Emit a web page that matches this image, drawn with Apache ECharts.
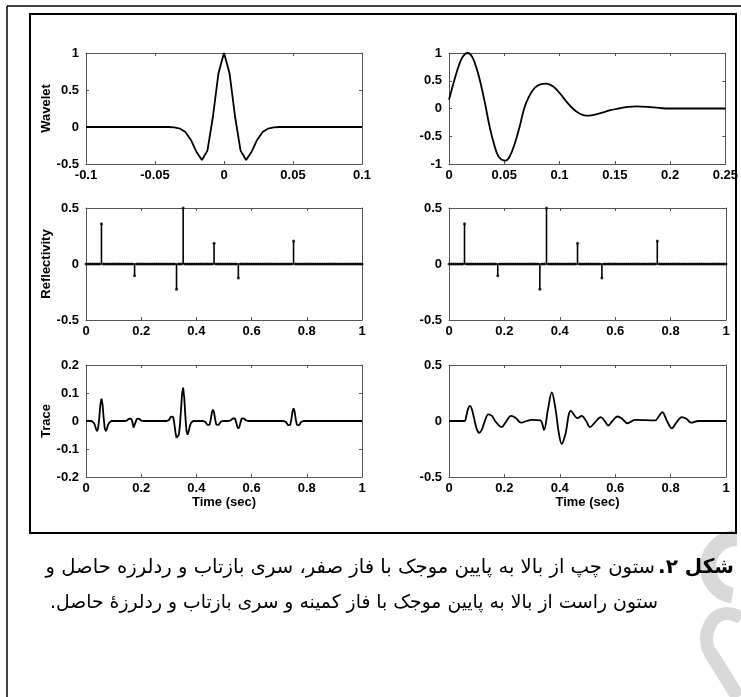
<!DOCTYPE html>
<html><head><meta charset="utf-8">
<script src="https://cdn.jsdelivr.net/npm/echarts@6/dist/echarts.min.js"></script>
<style>html,body{margin:0;padding:0;background:#fff}#c{width:741px;height:697px}</style>
</head><body><div id="c"></div>
<script>
// ---- zero-phase wavelet (left, top) ----
const zpWaveT = [-0.1,-0.04,-0.036,-0.032,-0.028,-0.024,-0.02,-0.016,-0.012,-0.008,-0.004,0,0.004,0.008,0.012,0.016,0.02,0.024,0.028,0.032,0.036,0.04,0.1];
const zpWaveV = [0,0,-0.005,-0.021,-0.069,-0.175,-0.334,-0.445,-0.319,0.142,0.727,1,0.727,0.142,-0.319,-0.445,-0.334,-0.175,-0.069,-0.021,-0.005,0,0];
// ---- minimum-phase wavelet (right, top) ----
const mpWaveT = [0,0.004,0.008,0.012,0.0168,0.021,0.025,0.029,0.033,0.037,0.041,0.045,0.051,0.055,0.06,0.064,0.068,0.072,0.077,0.082,0.088,0.094,0.1,0.106,0.112,0.118,0.124,0.13,0.138,0.146,0.153,0.162,0.17,0.18,0.19,0.2,0.25];
const mpWaveV = [0.16,0.45,0.72,0.92,1.0,0.93,0.72,0.42,0.05,-0.35,-0.66,-0.87,-0.94,-0.86,-0.6,-0.32,0.0,0.2,0.36,0.43,0.45,0.4,0.28,0.13,0.0,-0.09,-0.13,-0.12,-0.08,-0.03,0.0,0.03,0.04,0.03,0.01,0.0,0.0];
// ---- reflectivity series (both columns), sampled every reflDt seconds ----
const reflDt = 0.008;
const reflV = [
  0,0,0,0,0,0,0,0.36,0,0,
  0,0,0,0,0,0,0,0,0,0,
  0,0,-0.105,0,0,0,0,0,0,0,
  0,0,0,0,0,0,0,0,0,0,
  0,-0.225,0,0,0.5,0,0,0,0,0,
  0,0,0,0,0,0,0,0,0.185,0,
  0,0,0,0,0,0,0,0,0,-0.125,
  0,0,0,0,0,0,0,0,0,0,
  0,0,0,0,0,0,0,0,0,0,
  0,0,0,0,0.205,0,0,0,0,0,
  0,0,0,0,0,0,0,0,0,0,
  0,0,0,0,0,0,0,0,0,0,
  0,0,0,0,0,0
];
// ---- zero-phase trace (left, bottom) ----
const zpTraceT = [0,0.02,0.024,0.028,0.032,0.036,0.04,0.044,0.048,0.052,0.056,0.06,0.064,0.068,0.072,0.076,0.08,0.084,0.088,0.092,
  0.14,0.144,0.148,0.152,0.156,0.16,0.164,0.168,0.172,0.176,0.18,0.184,0.188,0.192,0.196,0.2,0.204,0.208,
  0.292,0.296,0.3,0.304,0.308,0.312,0.316,0.32,0.324,0.328,0.332,0.336,0.34,0.344,0.348,0.352,0.356,0.36,0.364,0.368,0.372,0.376,0.38,0.384,0.388,
  0.424,0.428,0.432,0.436,0.44,0.444,0.448,0.452,0.456,0.46,0.464,0.468,0.472,0.476,0.48,0.484,0.488,0.492,0.496,
  0.516,0.52,0.524,0.528,0.532,0.536,0.54,0.544,0.548,0.552,0.556,0.56,0.564,0.568,0.572,0.576,0.58,0.584,0.588,
  0.716,0.72,0.724,0.728,0.732,0.736,0.74,0.744,0.748,0.752,0.756,0.76,0.764,0.768,0.772,0.776,0.78,0.784,0.788,1.0];
const zpTraceV = [0,0,-0.002,-0.006,-0.014,-0.027,-0.036,-0.026,0.011,0.058,0.08,0.058,0.011,-0.026,-0.036,-0.027,-0.014,-0.006,-0.002,0,
  0,0.0005,0.0016,0.004,0.008,0.0105,0.0075,-0.0033,-0.0235,-0.017,-0.0033,0.0075,0.0105,0.008,0.004,0.0016,0.0005,0,
  0,0.001,0.003,0.009,0.016,0.022,0.015,-0.009,-0.04,-0.06,-0.062,-0.05,-0.02,0.037,0.096,0.119,0.083,0.017,-0.035,-0.049,-0.037,-0.019,-0.008,-0.002,0,
  0,-0.001,-0.003,-0.007,-0.014,-0.018,-0.013,0.006,0.03,0.041,0.03,0.006,-0.013,-0.018,-0.014,-0.007,-0.003,-0.001,0,
  0,0.0006,0.002,0.005,0.009,0.012,0.009,-0.004,-0.02,-0.0275,-0.02,-0.004,0.009,0.012,0.009,0.005,0.002,0.0006,0,
  0,-0.001,-0.003,-0.008,-0.015,-0.02,-0.014,0.006,0.033,0.045,0.033,0.006,-0.014,-0.02,-0.015,-0.008,-0.003,-0.001,0,0];
// ---- minimum-phase trace (right, bottom) ----
const mpTraceT = [0,0.056,0.062,0.068,0.075,0.082,0.09,0.1,0.109,0.118,0.128,0.142,0.155,0.168,0.19,0.205,0.224,0.24,0.26,0.28,0.298,0.33,0.343,0.357,0.371,0.385,0.396,0.407,0.42,0.44,0.464,0.479,0.495,0.509,0.528,0.548,0.562,0.575,0.59,0.608,0.625,0.644,0.671,0.744,0.757,0.77,0.787,0.804,0.822,0.84,0.857,0.874,0.9,1.0];
const mpTraceV = [0,0,0.04,0.1,0.135,0.11,0.03,-0.07,-0.105,-0.08,-0.01,0.06,0.045,-0.005,-0.055,-0.01,0.045,0.03,-0.015,0.0,0.01,0.005,-0.08,0.1,0.255,0.1,-0.1,-0.205,-0.12,0.09,0.025,0.045,0.0,-0.055,-0.01,0.035,0.0,-0.04,0.0,0.04,0.02,-0.02,0.01,0.005,0.04,0.08,0.0,-0.065,-0.01,0.035,0.02,-0.015,0.0,0.0];

// axis ranges
const xRangeTL = [-0.1, 0.1, 0.05], xRangeTR = [0, 0.25, 0.05], xRangeT = [0, 1, 0.2];
const yRangeTL = [-0.5, 1, 0.5], yRangeTR = [-1, 1, 0.5], yRangeRefl = [-0.5, 0.5, 0.5];
const yRangeBL = [-0.2, 0.2, 0.1], yRangeBR = [-0.5, 0.5, 0.5];
const yNames = ['Wavelet', 'Reflectivity', 'Trace'];
const xName = 'Time (sec)';
const caption1Bold = 'شکل ۲.';
const caption1 = 'ستون چپ از بالا به پایین موجک با فاز صفر، سری بازتاب و ردلرزه حاصل و';
const caption2 = 'ستون راست از بالا به پایین موجک با فاز کمینه و سری بازتاب و ردلرزهٔ حاصل.';

const zip = (t, v) => t.map((x, i) => [x, v[i]]);
const reflData = reflV.map((v, i) => [+(i * reflDt).toFixed(4), v]);

const FONT = 'Liberation Sans, Arial, sans-serif';
const lbl = {color: '#000', fontSize: 13, fontWeight: 'bold', fontFamily: FONT};
const frame = {show: true, onZero: false, lineStyle: {color: '#555', width: 1}};
const tick = {show: true, inside: true, length: 3, lineStyle: {color: '#555'}};

const gridsPos = [
  {left: 86, top: 53, width: 276, height: 111},
  {left: 449, top: 53, width: 277, height: 111},
  {left: 86, top: 208, width: 276, height: 112},
  {left: 449, top: 208, width: 277, height: 112},
  {left: 86, top: 365, width: 276, height: 112},
  {left: 449, top: 365, width: 277, height: 112}
];
const xr = [xRangeTL, xRangeTR, xRangeT, xRangeT, xRangeT, xRangeT];
const yr = [yRangeTL, yRangeTR, yRangeRefl, yRangeRefl, yRangeBL, yRangeBR];

const xAxis = [], yAxis = [];
gridsPos.forEach((g, i) => {
  const [x0, x1, xi] = xr[i], [y0, y1, yi] = yr[i];
  xAxis.push({type: 'value', gridIndex: i, min: x0, max: x1, interval: xi, position: 'bottom',
    axisLine: frame, axisTick: tick, splitLine: {show: false},
    axisLabel: Object.assign({margin: 5, showMinLabel: true, showMaxLabel: true}, lbl),
    name: i >= 4 ? xName : '', nameLocation: 'middle', nameGap: 18, nameTextStyle: lbl});
  xAxis.push({type: 'value', gridIndex: i, min: x0, max: x1, interval: xi, position: 'top',
    axisLine: frame, axisTick: tick, splitLine: {show: false}, axisLabel: {show: false}});
  yAxis.push({type: 'value', gridIndex: i, min: y0, max: y1, interval: yi, position: 'left',
    axisLine: frame, axisTick: tick, splitLine: {show: false},
    axisLabel: Object.assign({margin: 7}, lbl),
    name: i % 2 === 0 ? yNames[i / 2] : '', nameLocation: 'middle', nameGap: 31, nameTextStyle: lbl});
  yAxis.push({type: 'value', gridIndex: i, min: y0, max: y1, interval: yi, position: 'right',
    axisLine: frame, axisTick: tick, splitLine: {show: false}, axisLabel: {show: false}});
});

const lineS = (i, data) => ({type: 'line', xAxisIndex: 2 * i, yAxisIndex: 2 * i, data, showSymbol: false,
  lineStyle: {color: '#000', width: 1.8}, silent: true, animation: false});
const smoothS = (i, data) => Object.assign(lineS(i, data), {smooth: 0.35});

const series = [
  lineS(0, zip(zpWaveT, zpWaveV)),
  smoothS(1, zip(mpWaveT, mpWaveV)),
  lineS(4, zip(zpTraceT, zpTraceV)),
  smoothS(5, zip(mpTraceT, mpTraceV))
];
[2, 3].forEach(i => {
  series.push({type: 'bar', xAxisIndex: 2 * i, yAxisIndex: 2 * i, data: reflData, barWidth: 1.6,
    itemStyle: {color: '#000'}, silent: true, animation: false});
  series.push({type: 'scatter', xAxisIndex: 2 * i, yAxisIndex: 2 * i, data: reflData, symbolSize: 3,
    itemStyle: {color: '#000'}, silent: true, animation: false,
    markLine: {silent: true, symbol: 'none', label: {show: false}, animation: false,
      lineStyle: {color: '#000', width: 1.6, type: 'solid'}, data: [{yAxis: 0}]}});
});

const capFont = '"DejaVu Sans", serif';
const wm = '#d9d9d9';
const graphic = [
  // light watermark shapes at bottom right
  {type: 'arc', shape: {cx: 737, cy: 567, r: 29, startAngle: Math.PI * 0.55, endAngle: Math.PI * 1.5}, style: {stroke: wm, fill: 'none', lineWidth: 16}},
  {type: 'bezierCurve', shape: {x1: 741, y1: 618, cpx1: 712, cpy1: 600, cpx2: 698, cpy2: 640, x2: 712, y2: 655}, style: {stroke: wm, fill: 'none', lineWidth: 13}},
  {type: 'line', shape: {x1: 710, y1: 652, x2: 738, y2: 697}, style: {stroke: wm, lineWidth: 14}},
  // frames
  {type: 'line', shape: {x1: 7, y1: 6, x2: 741, y2: 6}, style: {stroke: '#000', lineWidth: 1.5}},
  {type: 'line', shape: {x1: 7, y1: 6, x2: 7, y2: 697}, style: {stroke: '#000', lineWidth: 1.5}},
  {type: 'rect', shape: {x: 30, y: 14, width: 706, height: 519}, style: {fill: 'none', stroke: '#000', lineWidth: 2}},
  // caption
  {type: 'text', style: {text: '\u200F' + caption1Bold + '\u200F', x: 734, y: 568, align: 'right', verticalAlign: 'middle',
    font: 'bold 20px ' + capFont, fill: '#000'}},
  {type: 'text', style: {text: '\u200F' + caption1 + '\u200F', x: 655, y: 568, align: 'right', verticalAlign: 'middle',
    font: '19.6px ' + capFont, fill: '#000'}},
  {type: 'text', style: {text: '\u200F' + caption2 + '\u200F', x: 658, y: 603, align: 'right', verticalAlign: 'middle',
    font: '18.8px ' + capFont, fill: '#000'}}
];

const chart = echarts.init(document.getElementById('c'), null, {renderer: 'canvas'});
chart.setOption({animation: false, backgroundColor: '#fff', grid: gridsPos, xAxis, yAxis, series, graphic});
</script>
</body></html>
